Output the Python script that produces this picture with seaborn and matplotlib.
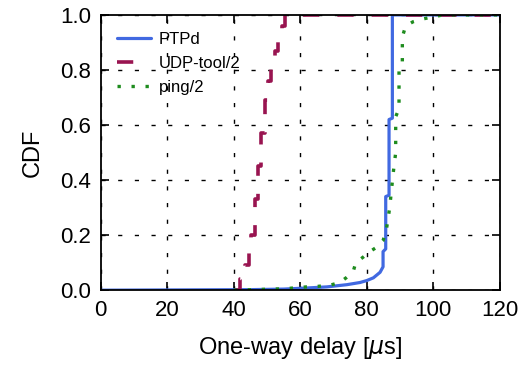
import numpy as np
import pandas as pd
import matplotlib
matplotlib.use("Agg")
import matplotlib.pyplot as plt
import seaborn as sns

# ---- data (delay in us, CDF) ----
ptp_x = [0, 45, 55, 62, 68, 74, 78, 80, 82, 84, 84.9, 84.9, 85.7, 85.7,
         86.7, 86.7, 87.7, 87.7, 120]
ptp_cdf = [0, 0.002, 0.004, 0.008, 0.012, 0.02, 0.028, 0.035, 0.045, 0.065,
           0.085, 0.14, 0.15, 0.34, 0.345, 0.62, 0.625, 1.0, 1.0]

udp_x = [40.3, 42.0, 43.3, 44.5, 45.3, 46.3, 47.2, 48.3, 49.3, 50.3, 51.3,
         52.3, 53.2, 54.5, 55.5, 120]
udp_cdf = [0.0, 0.04, 0.09, 0.15, 0.2, 0.33, 0.45, 0.57, 0.69, 0.76, 0.81,
           0.87, 0.92, 0.96, 1.0, 1.0]

ping_x = [40, 55, 61.9, 65.4, 68.9, 71.9, 73.9, 75.9, 76.7, 78.9, 80.9, 83.1,
          84.9, 85.9, 86.9, 87.9, 88.7, 88.7, 89.7, 89.7, 90.7, 90.7, 91.7,
          93.9, 96.7, 102.9, 120]
ping_cdf = [0, 0.005, 0.012, 0.014, 0.018, 0.028, 0.046, 0.067, 0.1, 0.12,
            0.14, 0.157, 0.18, 0.22, 0.3, 0.42, 0.5, 0.63, 0.66, 0.8, 0.83,
            0.92, 0.96, 0.975, 0.985, 1.0, 1.0]

x_ticks = [0, 20, 40, 60, 80, 100, 120]
y_ticks = [0.0, 0.2, 0.4, 0.6, 0.8, 1.0]

sns.set_theme(style="ticks")
plt.rcParams["font.family"] = ["Liberation Sans", "DejaVu Sans"]
plt.rcParams["mathtext.fontset"] = "dejavusans"
plt.rcParams["text.color"] = "black"
plt.rcParams["axes.labelcolor"] = "black"

fig, ax = plt.subplots(figsize=(5.3, 3.73), dpi=100)
fig.subplots_adjust(left=0.19, right=0.943, bottom=0.222, top=0.96)

sns.lineplot(x=ptp_x, y=ptp_cdf, ax=ax, estimator=None, sort=False,
             color="#4169E1", linewidth=2.3, label="PTPd")
sns.lineplot(x=udp_x, y=udp_cdf, ax=ax, estimator=None, sort=False,
             drawstyle="steps-post", color="#991450", linewidth=2.6,
             linestyle=(0, (4.5, 5.0)), label="UDP-tool/2")
sns.lineplot(x=ping_x, y=ping_cdf, ax=ax, estimator=None, sort=False,
             color="#1E8C1E", linewidth=2.4, linestyle=(0, (1, 3.2)),
             label="ping/2")

ax.set_xlim(0, 120)
ax.set_ylim(0, 1)
ax.set_xticks(x_ticks)
ax.set_yticks(y_ticks)
ax.set_yticklabels([f"{v:.1f}" for v in y_ticks])
ax.grid(True, color="black", linestyle=(0, (3, 9)), linewidth=1.0)
ax.tick_params(direction="in", length=6, width=1.2, labelsize=16,
               top=True, right=True, colors="black", pad=7)
for sp in ax.spines.values():
    sp.set_linewidth(1.3)
    sp.set_color("black")

ax.set_xlabel(r"One-way delay [$\mu$s]", fontsize=17, labelpad=10)
ax.set_ylabel("CDF", fontsize=17, labelpad=12)

ax.legend(loc="upper left", frameon=False, fontsize=12, handlelength=2.0,
          handletextpad=0.5, labelspacing=0.55, borderaxespad=0.6)

plt.savefig("out.png", dpi=100)
plt.close()
